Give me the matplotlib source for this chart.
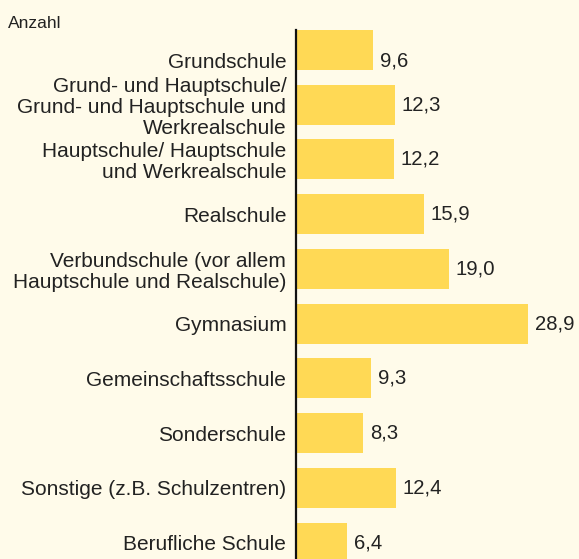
import matplotlib
matplotlib.use("Agg")
import matplotlib.pyplot as plt
from matplotlib.transforms import ScaledTranslation

categories = [
    "Grundschule",
    "Grund- und Hauptschule/\nGrund- und Hauptschule und\nWerkrealschule",
    "Hauptschule/ Hauptschule\nund Werkrealschule",
    "Realschule",
    "Verbundschule (vor allem\nHauptschule und Realschule)",
    "Gymnasium",
    "Gemeinschaftsschule",
    "Sonderschule",
    "Sonstige (z.B. Schulzentren)",
    "Berufliche Schule",
]
values = [9.6, 12.3, 12.2, 15.9, 19.0, 28.9, 9.3, 8.3, 12.4, 6.4]
value_labels = ["9,6", "12,3", "12,2", "15,9", "19,0", "28,9", "9,3", "8,3", "12,4", "6,4"]
axis_title = "Anzahl"

BG = "#FFFBEA"
BAR = "#FFD955"
TXT = "#222222"
FONT = ["Liberation Sans", "DejaVu Sans"]
FS_CAT = 15.0
FS_VAL = 14.6

W, H = 579, 559
fig = plt.figure(figsize=(W / 100, H / 100), dpi=100)
fig.patch.set_facecolor(BG)

left_px, top_px = 296, 30
ax = fig.add_axes([left_px / W, 0, 1 - left_px / W, (H - top_px) / H])
ax.set_facecolor(BG)

pos = list(range(len(values)))
ax.barh(pos, values, height=0.73, color=BAR, edgecolor="none", zorder=2)

ax.set_xlim(0, (W - left_px) / 8.03)
ax.set_ylim(9.30, -0.365)

for s in ["top", "right", "bottom"]:
    ax.spines[s].set_visible(False)
ax.spines["left"].set_color("#111111")
ax.spines["left"].set_linewidth(1.6)
ax.spines["left"].set_zorder(3)
ax.set_xticks([])
ax.set_yticks(pos)
ax.set_yticklabels(categories, fontsize=FS_CAT, color=TXT, family=FONT,
                   linespacing=1.12)
ax.tick_params(axis="y", length=0, pad=7)

offset = ScaledTranslation(7 / 100, 0, fig.dpi_scale_trans)
for i, (v, lab) in enumerate(zip(values, value_labels)):
    yy = i + (0.2 if i == 0 else 0)
    ax.text(v, yy, lab, transform=ax.transData + offset,
            ha="left", va="center", fontsize=FS_VAL, color=TXT, family=FONT)

# first category label sits slightly lower, as in the reference
tl = ax.get_yticklabels()[0]
tl.set_transform(tl.get_transform() + ScaledTranslation(0, -11 / 100, fig.dpi_scale_trans))

fig.text(8 / W, 1 - 23 / H, axis_title, ha="left", va="center",
         fontsize=12.5, color=TXT, family=FONT)

fig.savefig("out.png", dpi=100, facecolor=BG)
